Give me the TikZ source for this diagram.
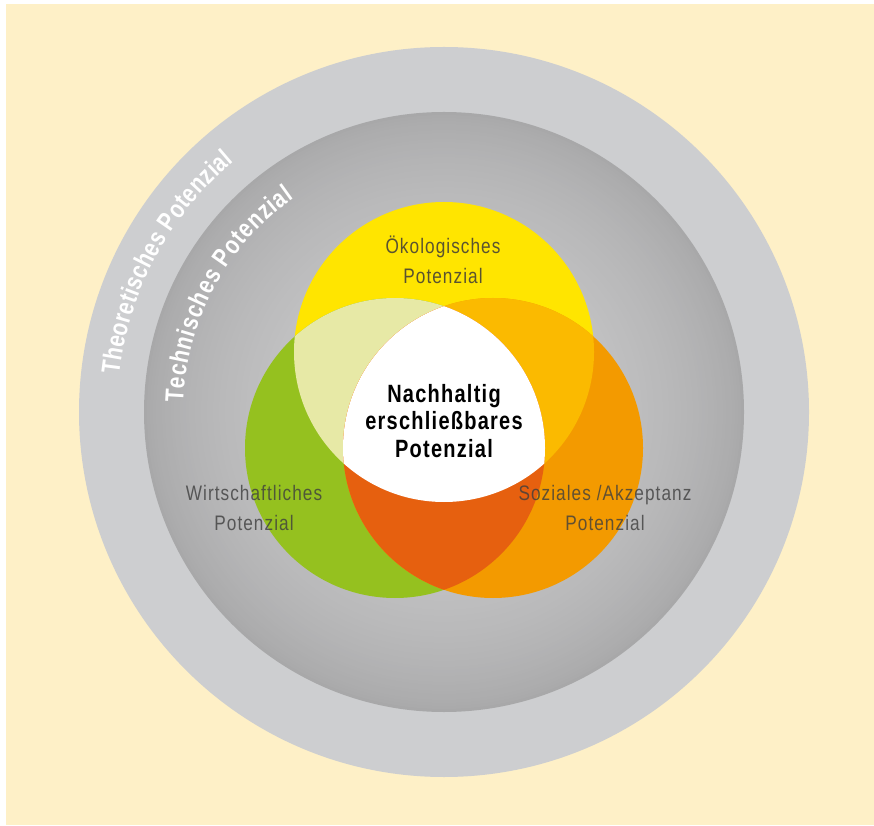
\documentclass[tikz,border=0pt]{standalone}
\usepackage{fontspec}
\setmainfont{Liberation Sans}
\newfontfamily\labelfont[FakeStretch=0.82,LetterSpace=5]{Liberation Sans}
\newfontfamily\corefont[FakeStretch=0.8,LetterSpace=5]{Liberation Sans Bold}
\newfontfamily\ringfont[FakeStretch=0.8]{Liberation Sans Bold}
\usetikzlibrary{decorations.text,calc}

\definecolor{cream}{HTML}{FEF0C7}
\definecolor{ringgray}{HTML}{CDCED0}
\definecolor{discmid}{HTML}{C3C3C4}
\definecolor{discrim}{HTML}{A8A8A9}
\definecolor{ecoyellow}{HTML}{FFE500}
\definecolor{ecogreen}{HTML}{95C11F}
\definecolor{socorange}{HTML}{F39A00}
\definecolor{yellowgreen}{HTML}{E7E9A6}
\definecolor{yelloworange}{HTML}{FBBA00}
\definecolor{greenorange}{HTML}{E6600F}
\definecolor{labelgray}{HTML}{3E3E3E}
\definecolor{ecotext}{HTML}{5A5330}

\tikzset{
  sidelabel/.style={align=center, text=labelgray, text opacity=0.8,
    font=\labelfont\fontsize{21}{30}\selectfont},
  toplabel/.style={align=center, text=ecotext,
    font=\labelfont\fontsize{21}{30}\selectfont},
  corelabel/.style={align=center, text=black,
    font=\corefont\fontsize{25}{27.5}\selectfont},
  ringtext/.style={decorate, decoration={text along path,
    text align=fit to path, text color=white, text={#1}}}
}

\begin{document}
\begin{tikzpicture}[x=1pt,y=1pt]
  \useasboundingbox (0,0) rectangle (874,825);
  \fill[white] (0,0) rectangle (874,825);
  \fill[cream] (6,0) rectangle (874,821);

  \coordinate (C) at (444,413);
  \coordinate (Y) at (444,473);
  \coordinate (G) at (395,377);
  \coordinate (O) at (493,377);

  % theoretical ring
  \fill[ringgray] (C) circle[radius=365];
  % technical disc: darker rim fading to a lighter centre
  \foreach \r in {300,297,...,150} {
    \pgfmathsetmacro\t{100*((300-\r)/150)^0.7}
    \fill[discmid!\t!discrim] (C) circle[radius=\r];
  }

  % three potentials
  \fill[ecoyellow] (Y) circle[radius=150];
  \fill[ecogreen] (G) circle[radius=150];
  \fill[socorange] (O) circle[radius=150];
  \begin{scope}
    \clip (Y) circle[radius=150];
    \fill[yellowgreen] (G) circle[radius=150];
    \fill[yelloworange] (O) circle[radius=150];
  \end{scope}
  \begin{scope}
    \clip (G) circle[radius=150];
    \fill[greenorange] (O) circle[radius=150];
    \clip (Y) circle[radius=150];
    \fill[white] (O) circle[radius=150];
  \end{scope}

  % labels
  \node[toplabel] (eco) at (443,565) {Ökologisches\\Potenzial};
  \node[sidelabel] (econ) at (254,317) {Wirtschaftliches\\Potenzial};
  \node[sidelabel] (soc) at (605,317) {Soziales /Akzeptanz\\Potenzial};
  \node[corelabel] (core) at (444,404) {Nachhaltig\\erschließbares\\Potenzial};

  % curved ring titles, set in the ring font
  {\ringfont\fontsize{26}{26}\selectfont
  \path[ringtext={Theoretisches Potenzial}]
    ($(C)+(173.5:327)$) arc[start angle=173.5, end angle=130, radius=327];
  \path[ringtext={Technisches Potenzial}]
    ($(C)+(178:261)$) arc[start angle=178, end angle=125, radius=261];
  }
\end{tikzpicture}
\end{document}
